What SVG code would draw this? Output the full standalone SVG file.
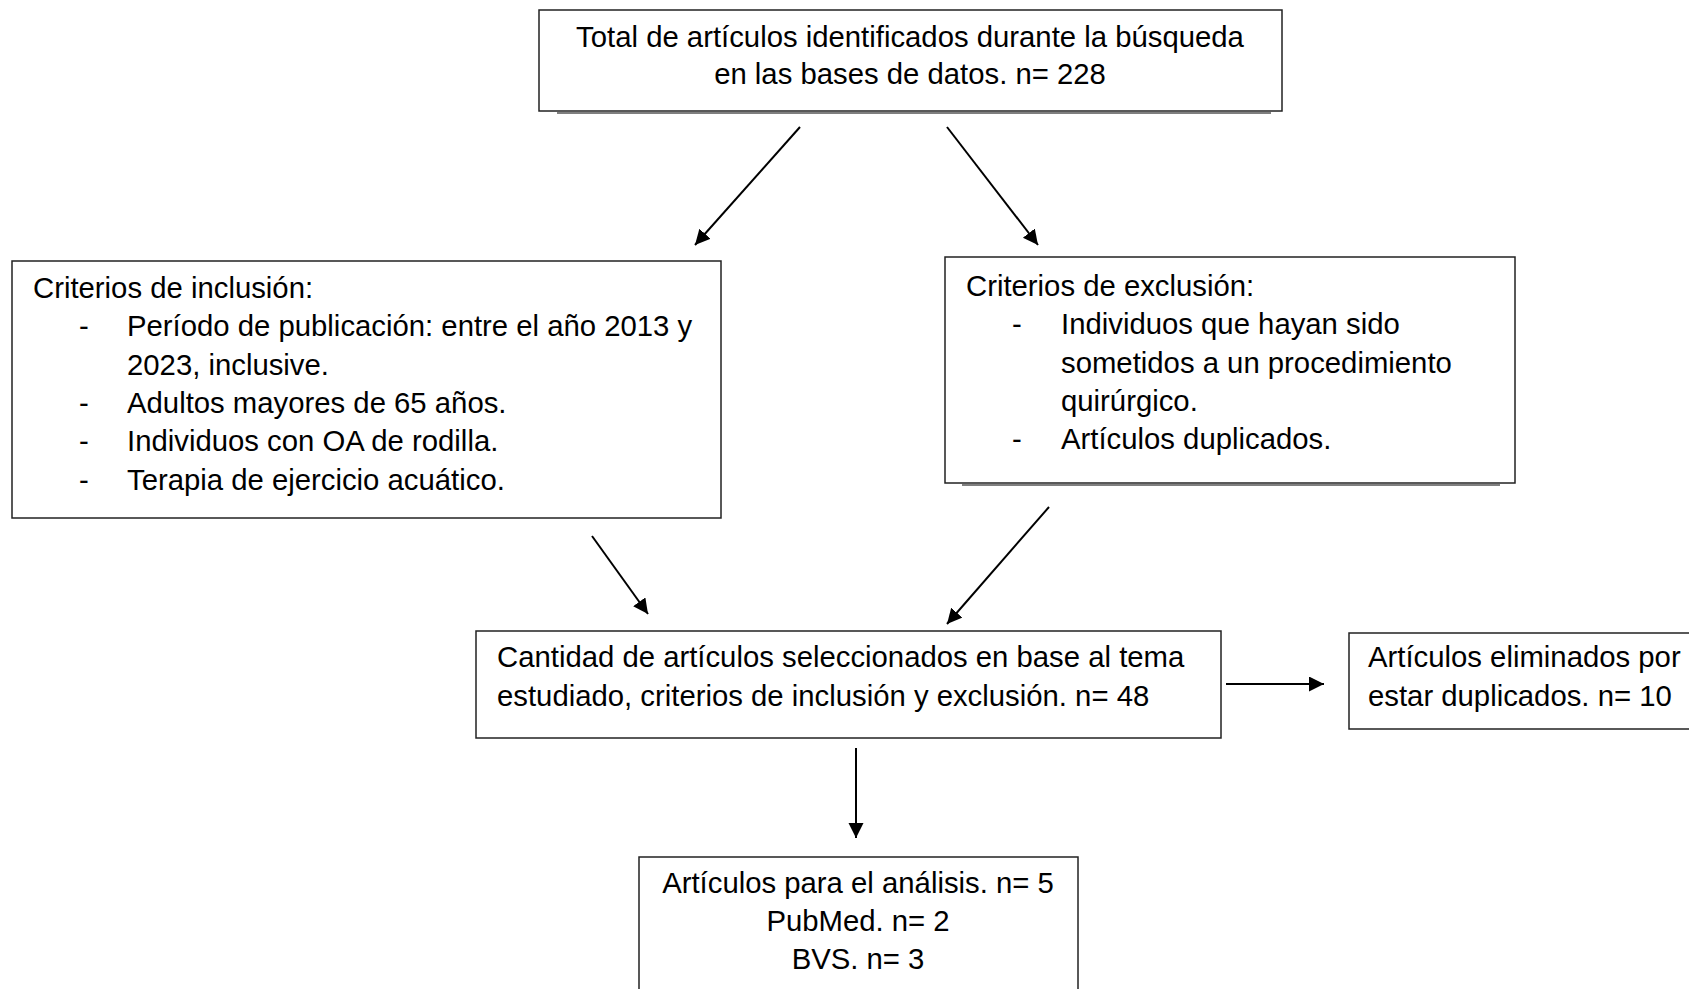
<svg xmlns="http://www.w3.org/2000/svg" width="1689" height="989" viewBox="0 0 1689 989">
<style>
.box{fill:#fff;stroke:#222;stroke-width:1.5}
.t{font-family:"Liberation Sans",Arial,sans-serif;font-size:29.3px;fill:#000}
.c{text-anchor:middle}
.ln{stroke:#000;stroke-width:2;fill:none}
.sh{stroke:#555;stroke-width:1.5}
</style>
<defs>
<marker id="ah" markerUnits="userSpaceOnUse" markerWidth="16" markerHeight="16" refX="15" refY="7.5" orient="auto">
<path d="M0,0 L15,7.5 L0,15 z" fill="#000"/>
</marker>
</defs>
<rect width="1689" height="989" fill="#fff"/>
<g id="connectors">
<line class="ln" x1="800" y1="127" x2="695" y2="245" marker-end="url(#ah)"/>
<line class="ln" x1="947" y1="127" x2="1038" y2="245" marker-end="url(#ah)"/>
<line class="ln" x1="592" y1="536" x2="648" y2="614" marker-end="url(#ah)"/>
<line class="ln" x1="1049" y1="507" x2="947" y2="624" marker-end="url(#ah)"/>
<line class="ln" x1="1226" y1="684" x2="1324" y2="684" marker-end="url(#ah)"/>
<line class="ln" x1="856" y1="748" x2="856" y2="838" marker-end="url(#ah)"/>
</g>
<g id="n-total">
<rect class="box" x="539" y="10" width="743" height="101"/>
<line class="sh" x1="557" y1="113" x2="1271" y2="113"/>
<text class="t c" x="910" y="47">Total de artículos identificados durante la búsqueda</text>
<text class="t c" x="910" y="84">en las bases de datos. n= 228</text>
</g>
<g id="n-inclusion">
<rect class="box" x="12" y="261" width="709" height="257"/>
<text class="t" x="33" y="298">Criterios de inclusión:</text>
<text class="t" x="79" y="336">-</text>
<text class="t" x="127" y="336">Período de publicación: entre el año 2013 y</text>
<text class="t" x="127" y="375">2023, inclusive.</text>
<text class="t" x="79" y="413">-</text>
<text class="t" x="127" y="413">Adultos mayores de 65 años.</text>
<text class="t" x="79" y="451">-</text>
<text class="t" x="127" y="451">Individuos con OA de rodilla.</text>
<text class="t" x="79" y="490">-</text>
<text class="t" x="127" y="490">Terapia de ejercicio acuático.</text>
</g>
<g id="n-exclusion">
<rect class="box" x="945" y="257" width="570" height="226"/>
<line class="sh" x1="962" y1="485" x2="1500" y2="485"/>
<text class="t" x="966" y="296">Criterios de exclusión:</text>
<text class="t" x="1012" y="334">-</text>
<text class="t" x="1061" y="334">Individuos que hayan sido</text>
<text class="t" x="1061" y="373">sometidos a un procedimiento</text>
<text class="t" x="1061" y="411">quirúrgico.</text>
<text class="t" x="1012" y="449">-</text>
<text class="t" x="1061" y="449">Artículos duplicados.</text>
</g>
<g id="n-seleccionados">
<rect class="box" x="476" y="631" width="745" height="107"/>
<text class="t" x="497" y="667">Cantidad de artículos seleccionados en base al tema</text>
<text class="t" x="497" y="706">estudiado, criterios de inclusión y exclusión. n= 48</text>
</g>
<g id="n-eliminados">
<rect class="box" x="1349" y="633" width="360" height="96"/>
<text class="t" x="1368" y="667">Artículos eliminados por</text>
<text class="t" x="1368" y="706">estar duplicados. n= 10</text>
</g>
<g id="n-analisis">
<rect class="box" x="639" y="857" width="439" height="150"/>
<text class="t c" x="858" y="893">Artículos para el análisis. n= 5</text>
<text class="t c" x="858" y="931">PubMed. n= 2</text>
<text class="t c" x="858" y="969">BVS. n= 3</text>
</g>
</svg>
